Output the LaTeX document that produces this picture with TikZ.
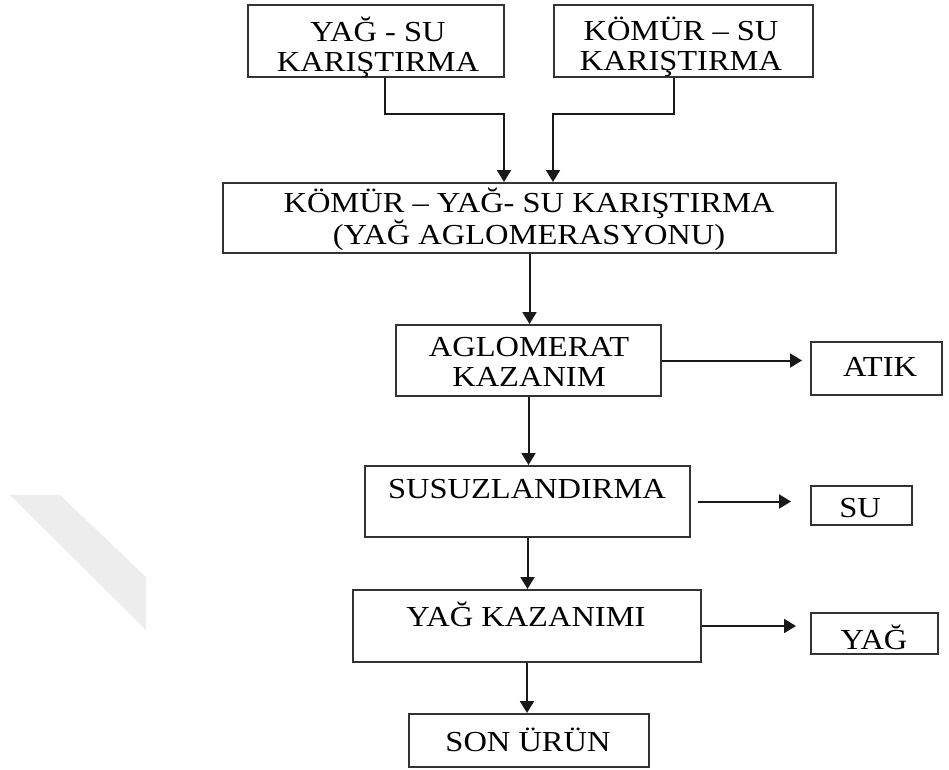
\documentclass[tikz,border=0pt]{standalone}
\usepackage{fontspec}
\setmainfont{Liberation Serif}[FakeStretch=1.12]
\usetikzlibrary{arrows.meta}
\tikzset{
  box/.style={draw=black!80, line width=2pt, rectangle, inner sep=0pt},
  txt/.style={font=\fontsize{29}{30}\selectfont, align=center, inner sep=0pt, text=black},
  arr/.style={draw=black!90, line width=2pt, -{Triangle[width=14pt,length=12pt]}},
  ln/.style={draw=black!90, line width=2pt}
}
\begin{document}
\begin{tikzpicture}[x=1pt,y=-1pt]
\useasboundingbox[fill=white] (0,0) rectangle (949,769);
% faint watermark band
\fill[black!7] (10,495) -- (60,495) -- (146,577) -- (146,630) -- cycle;
% boxes
\node[box, minimum width=256pt, minimum height=72pt] (b1) at (376,41) {};
\node[box, minimum width=259pt, minimum height=72pt] (b2) at (683.5,41) {};
\node[box, minimum width=613pt, minimum height=70pt] (m) at (529.5,218) {};
\node[box, minimum width=265pt, minimum height=71pt] (ag) at (528.5,360.5) {};
\node[box, minimum width=131pt, minimum height=53pt] (atik) at (876.5,368.5) {};
\node[box, minimum width=325pt, minimum height=71pt] (sus) at (527.5,501.5) {};
\node[box, minimum width=101pt, minimum height=39pt] (su) at (861.5,505.5) {};
\node[box, minimum width=348pt, minimum height=72pt] (yk) at (527,626) {};
\node[box, minimum width=127pt, minimum height=41pt] (yag) at (874.5,633.5) {};
\node[box, minimum width=240pt, minimum height=53pt] (son) at (529,740.5) {};
% texts
\node[txt] (t1) at (378,47) {YAĞ - SU\\KARIŞTIRMA};
\node[txt] (t2) at (681,47) {KÖMÜR – SU\\KARIŞTIRMA};
\node[txt] (tm) at (529,219) {KÖMÜR – YAĞ- SU KARIŞTIRMA\\(YAĞ AGLOMERASYONU)};
\node[txt] (tag) at (529,362) {AGLOMERAT\\KAZANIM};
\node[txt] (tatik) at (880,367) {ATIK};
\node[txt] (tsus) at (527,489) {SUSUZLANDIRMA};
\node[txt] (tsu) at (860,508) {SU};
\node[txt] (tyk) at (526,614) {YAĞ KAZANIMI};
\node[txt] (tyag) at (874,637) {YAĞ};
\node[txt] (tson) at (528,740) {SON ÜRÜN};
% connectors
\draw[arr] ([xshift=9pt]b1.south) -- ++(0,36) -| ([xshift=-25.5pt]m.north);
\draw[arr] ([xshift=-9.5pt]b2.south) -- ++(0,36) -| ([xshift=23.5pt]m.north);
\draw[arr] (m.south) -- (m.south |- ag.north);
\draw[arr] (ag.south) -- (ag.south |- sus.north);
\draw[arr] (sus.south) -- (sus.south |- yk.north);
\draw[arr] (yk.south) -- (yk.south |- son.north);
\draw[arr, shorten >=8pt] (ag.east) -- (ag.east -| atik.west);
\draw[arr, shorten <=7pt, shorten >=19pt] (sus.east) -- (sus.east -| su.west);
\draw[arr, shorten >=14pt] (yk.east) -- (yk.east -| yag.west);
\end{tikzpicture}
\end{document}
